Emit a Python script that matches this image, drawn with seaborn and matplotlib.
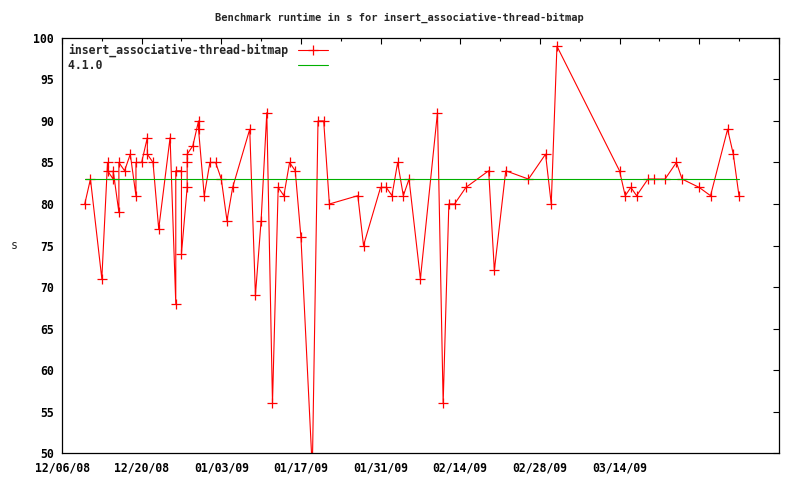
import pandas as pd
import seaborn as sns
import matplotlib.pyplot as plt

# benchmark runs (several runs on one day share the same date)
run_dates = [
    "2008-12-10", "2008-12-11", "2008-12-13", "2008-12-14", "2008-12-14",
    "2008-12-15", "2008-12-15", "2008-12-16", "2008-12-16", "2008-12-17",
    "2008-12-18", "2008-12-19", "2008-12-19", "2008-12-20", "2008-12-21",
    "2008-12-21", "2008-12-22", "2008-12-23", "2008-12-25", "2008-12-26",
    "2008-12-26", "2008-12-27", "2008-12-27", "2008-12-28", "2008-12-28",
    "2008-12-28", "2008-12-29", "2008-12-30", "2008-12-30", "2008-12-31",
    "2009-01-01", "2009-01-02", "2009-01-03", "2009-01-04", "2009-01-05",
    "2009-01-08", "2009-01-09", "2009-01-10", "2009-01-11", "2009-01-12",
    "2009-01-13", "2009-01-14", "2009-01-15", "2009-01-16", "2009-01-17",
    "2009-01-19", "2009-01-20", "2009-01-21", "2009-01-22", "2009-01-27",
    "2009-01-28", "2009-01-31", "2009-02-01", "2009-02-02", "2009-02-03",
    "2009-02-04", "2009-02-05", "2009-02-07", "2009-02-10", "2009-02-11",
    "2009-02-12", "2009-02-13", "2009-02-15", "2009-02-19", "2009-02-20",
    "2009-02-22", "2009-02-26", "2009-03-01", "2009-03-02", "2009-03-03",
    "2009-03-14", "2009-03-15", "2009-03-16", "2009-03-17", "2009-03-19",
    "2009-03-20", "2009-03-22", "2009-03-24", "2009-03-25", "2009-03-28",
    "2009-03-30", "2009-04-02", "2009-04-03", "2009-04-04",
]
runtime_s = [
    80, 83, 71, 85, 84,
    83, 84, 79, 85, 84,
    86, 81, 85, 85, 88,
    86, 85, 77, 88, 68,
    84, 84, 74, 82, 85,
    86, 87, 90, 89, 81,
    85, 85, 83, 78, 82,
    89, 69, 78, 91, 56,
    82, 81, 85, 84, 76,
    48, 90, 90, 80, 81,
    75, 82, 82, 81, 85,
    81, 83, 71, 91, 56,
    80, 80, 82, 84, 72,
    84, 83, 86, 80, 99,
    84, 81, 82, 81, 83,
    83, 83, 85, 83, 82,
    81, 89, 86, 81,
]

# reference version 4.1.0
baseline_dates = ["2008-12-10", "2009-04-04"]
baseline_s = [83, 83]

tick_dates = ["2008-12-06", "2008-12-20", "2009-01-03", "2009-01-17", "2009-01-31",
              "2009-02-14", "2009-02-28", "2009-03-14", "2009-03-28", "2009-04-11"]
tick_labels = ["12/06/08", "12/20/08", "01/03/09", "01/17/09", "01/31/09",
               "02/14/09", "02/28/09", "03/14/09", "", ""]

series_name = "insert_associative-thread-bitmap"
baseline_name = "4.1.0"

sns.set_style("white")
plt.rcParams["font.family"] = ["DejaVu Sans Mono"]
plt.rcParams["font.weight"] = "bold"

runs = pd.DataFrame({"date": pd.to_datetime(run_dates), "s": runtime_s})
base = pd.DataFrame({"date": pd.to_datetime(baseline_dates), "s": baseline_s})

fig = plt.figure(figsize=(8, 4.8), dpi=100)
ax = fig.add_axes([0.0775, 0.056, 0.896, 0.865])

sns.lineplot(data=runs, x="date", y="s", ax=ax, estimator=None, sort=False,
             color="#ff0000", linewidth=0.8, marker="+", markersize=6.5,
             markeredgewidth=0.9, markeredgecolor="#ff0000", label=series_name)
sns.lineplot(data=base, x="date", y="s", ax=ax, estimator=None, sort=False,
             color="#00b000", linewidth=0.8,
             label=baseline_name.ljust(len(series_name)))

ticks = pd.to_datetime(tick_dates)
ax.set_xlim(ticks[0], ticks[-1])
ax.set_xticks(ticks)
ax.set_xticklabels(tick_labels)
ax.set_xticks(ticks[:-1] + pd.Timedelta(days=7), minor=True)
ax.set_ylim(50, 100)
ax.set_yticks(range(50, 101, 5))

ax.tick_params(which="both", direction="in", top=True, right=True,
               labelsize=8.3, width=0.8, colors="black")
ax.tick_params(which="major", length=4.5, pad=6)
ax.tick_params(which="minor", length=2.5)
for sp in ax.spines.values():
    sp.set_color("black")
    sp.set_linewidth(0.9)

ax.set_xlabel("")
ax.set_ylabel("s", rotation=0, fontsize=8.3, va="center")
ax.yaxis.set_label_coords(-0.067, 0.5)
# gnuplot centres the title on the whole image, not the plot area
ax.set_title("Benchmark runtime in s for insert_associative-thread-bitmap",
             fontsize=7.5, fontweight="bold", pad=12, x=0.471)

leg = ax.legend(loc="upper left", markerfirst=False, frameon=False,
                fontsize=8.3, handlelength=2.6, handletextpad=0.85,
                borderpad=0.2, borderaxespad=0.3, labelspacing=0.15)

fig.savefig("out.png", dpi=100)
